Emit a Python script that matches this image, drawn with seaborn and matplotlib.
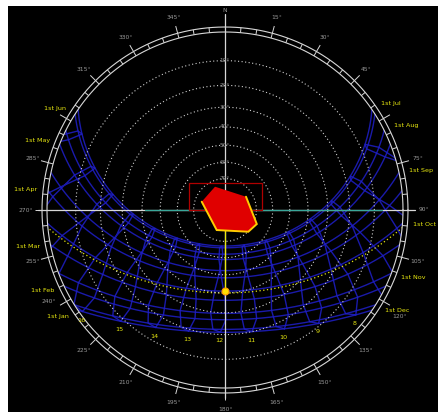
import numpy as np
import pandas as pd
import matplotlib
matplotlib.use("Agg")
import matplotlib.pyplot as plt
from matplotlib.patches import Circle, Polygon, Rectangle
from matplotlib.collections import LineCollection
import seaborn as sns

# site + clock settings
LATITUDE = 46.0
CLOCK_SHIFT_MIN = 12.0

# first day of each month: solar declination (deg) and equation of time (min)
MONTHS = ['Jan', 'Feb', 'Mar', 'Apr', 'May', 'Jun',
          'Jul', 'Aug', 'Sep', 'Oct', 'Nov', 'Dec']
DECLINATION = [-23.0, -17.3, -7.8, 4.3, 14.9, 22.0,
               23.1, 18.1, 8.4, -3.0, -14.3, -21.7]
EQ_OF_TIME = [-3.2, -13.6, -12.5, -4.1, 2.9, 2.3,
              -3.7, -6.3, -0.1, 10.1, 16.4, 11.2]

HOURS = list(range(4, 21))
ALTITUDE_RINGS = [10, 20, 30, 40, 50, 60, 70, 80]
# 60 and 300 sit under the "1st Jul" / "1st Jun" labels in the original
AZIMUTH_LABELS = [0, 15, 30, 45, 75, 90, 105, 120, 135, 150, 165, 180,
                  195, 210, 225, 240, 255, 270, 285, 315, 330, 345]
# small shifts so 120/240 clear the month labels next to them
LABEL_NUDGE = {120: (0.01, -0.04), 240: (-0.02, 0.045)}

# current day path and sun position
TODAY_DECLINATION = -4.0
SUN_AZIMUTH = 180.0
SUN_ALTITUDE = 41.0

# shading polygon (azimuth / altitude, deg) and site box (unit disc coords)
SHADE_AZ = [289.6, 336.8, 57.7, 113.8, 133.0, 202.5]
SHADE_ALT = [74.2, 73.8, 74.1, 67.9, 69.7, 76.1]
SITE_X = [-0.20, 0.21]
SITE_Y = [0.0, 0.152]
TEAL_SPAN = [-0.45, 0.88]

BLUE = '#1f1fc8'
YELLOW = '#e8e810'
GREY = '#9a9a9a'


def sky_xy(dec, hour_angle):
    # stereographic projection, horizon -> radius 1
    lat = np.radians(LATITUDE)
    d = np.radians(dec)
    h = np.radians(hour_angle)
    east = -np.cos(d) * np.sin(h)
    north = np.sin(d) * np.cos(lat) - np.cos(d) * np.sin(lat) * np.cos(h)
    up = np.sin(d) * np.sin(lat) + np.cos(d) * np.cos(lat) * np.cos(h)
    return east / (1 + up), north / (1 + up), up


def azalt_xy(az, alt):
    r = np.tan(np.radians(90 - np.asarray(alt, dtype=float)) / 2)
    a = np.radians(np.asarray(az, dtype=float))
    return r * np.sin(a), r * np.cos(a)


def hour_angle(clock, eot):
    return 15.0 * (clock + (eot + CLOCK_SHIFT_MIN) / 60.0 - 12.0)


sns.set_theme(style='dark')

fig = plt.figure(figsize=(4.39, 4.12), dpi=100, facecolor='white')
ax = fig.add_axes([8 / 439, 0, 431 / 439, 406 / 412])
ax.set_facecolor('black')
ax.set_xlim(-217 / 178, 214 / 178)
ax.set_ylim(-202 / 178, 204 / 178)
ax.set_xticks([])
ax.set_yticks([])
for s in ax.spines.values():
    s.set_visible(False)

horizon = Circle((0, 0), 1.0, transform=ax.transData)

# date lines
rows = []
sweep = np.linspace(-180, 180, 361)
for m, dec in zip(MONTHS, DECLINATION):
    x, y, _ = sky_xy(dec, sweep)
    rows.append(pd.DataFrame({'x': x, 'y': y, 'name': m}))
# hour lines (loops through the monthly points)
for hr in HOURS:
    order = list(range(12)) + [0]
    hx, hy = [], []
    for i in order:
        px, py, _ = sky_xy(DECLINATION[i], hour_angle(hr, EQ_OF_TIME[i]))
        hx.append(px)
        hy.append(py)
    rows.append(pd.DataFrame({'x': hx, 'y': hy, 'name': f'h{hr}'}))
paths = pd.concat(rows, ignore_index=True)

n_before = len(ax.lines)
sns.lineplot(data=paths, x='x', y='y', units='name', estimator=None, sort=False,
             color=BLUE, linewidth=1.0, alpha=0.85, legend=False, ax=ax)
for ln in ax.lines[n_before:]:
    ln.set_clip_path(horizon)

# altitude rings
t = np.linspace(0, 2 * np.pi, 400)
for alt in ALTITUDE_RINGS:
    r = np.tan(np.radians(90 - alt) / 2)
    ax.plot(r * np.cos(t), r * np.sin(t), color='#d0d0d0', lw=0.8,
            linestyle=(0, (1, 2.2)), zorder=3)
    ax.text(0, r, f'{alt}°', color=GREY, fontsize=4.2, ha='center', va='center', zorder=6)

# today's path
n_before = len(ax.lines)
tx, ty, _ = sky_xy(TODAY_DECLINATION, sweep)
sns.lineplot(x=tx, y=ty, sort=False, estimator=None, color=YELLOW, linewidth=0.9,
             linestyle=(0, (1, 2)), ax=ax, legend=False)
for ln in ax.lines[n_before:]:
    ln.set_clip_path(horizon)

# compass ring
for rr in (1.0, 1.028):
    ax.plot(rr * np.cos(t), rr * np.sin(t), color='#d8d8d8', lw=0.8, zorder=4)
segs = []
for a in range(0, 360, 5):
    s, c = np.sin(np.radians(a)), np.cos(np.radians(a))
    outer = 1.07 if a % 15 == 0 else 1.028
    segs.append([(s * 1.0, c * 1.0), (s * outer, c * outer)])
ax.add_collection(LineCollection(segs, colors='#d8d8d8', linewidths=0.7, zorder=4))

# main axes lines
ax.plot([0, 0], [-1.057, 1.10], color='#d8d8d8', lw=0.9, zorder=4)
ax.plot([-1.05, 1.067], [0, 0], color='#d8d8d8', lw=0.9, zorder=4)
ax.plot(TEAL_SPAN, [0, 0], color='#3aa89a', lw=0.9, zorder=4)

for a in AZIMUTH_LABELS:
    label = 'N' if a == 0 else f'{a}°'
    s, c = np.sin(np.radians(a)), np.cos(np.radians(a))
    dx, dy = LABEL_NUDGE.get(a, (0.0, 0.0))
    ax.text(1.12 * s + dx, 1.12 * c + dy, label, color=GREY, fontsize=4.3,
            ha='center', va='center', zorder=5)

# month labels at sunset (Jan-Jun) / sunrise (Jul-Dec)
lat_r = np.radians(LATITUDE)
for i, (m, dec) in enumerate(zip(MONTHS, DECLINATION)):
    h0 = np.degrees(np.arccos(-np.tan(lat_r) * np.tan(np.radians(dec))))
    h = h0 if i < 6 else -h0
    px, py, _ = sky_xy(dec, h)
    ax.text(1.06 * px, 1.06 * py, f'1st {m}', color=YELLOW, fontsize=4.6,
            ha='right' if i < 6 else 'left', va='center', zorder=7)

# hour labels under the January path
for hr in HOURS:
    px, py, up = sky_xy(DECLINATION[0], hour_angle(hr, EQ_OF_TIME[0]))
    if up > 0:
        ax.text(px - 0.006, py - 0.048, str(hr), color=YELLOW, fontsize=4.6,
                ha='center', va='center', zorder=8)

# site box and shading polygon
ax.add_patch(Rectangle((SITE_X[0], SITE_Y[0]), SITE_X[1] - SITE_X[0], SITE_Y[1] - SITE_Y[0],
                       fill=False, edgecolor='#b00000', lw=0.9, zorder=5))
sx, sy = azalt_xy(SHADE_AZ, SHADE_ALT)
ax.add_patch(Polygon(np.column_stack([sx, sy]), closed=True, facecolor='#e00000',
                     edgecolor='none', zorder=6))
edge = [2, 3, 4, 5, 0]
ax.plot(sx[edge], sy[edge], color='#ffcc00', lw=1.4, zorder=6, solid_joinstyle='miter')

# sun
sunx, suny = azalt_xy([SUN_AZIMUTH], [SUN_ALTITUDE])
ax.plot([0, sunx[0]], [0, suny[0]], color=YELLOW, lw=0.9, zorder=5)
ax.plot(sunx, suny, 'o', markersize=5, markerfacecolor='#ffe000',
        markeredgecolor='#ff9a00', markeredgewidth=0.8, zorder=8)

fig.savefig('out.png', dpi=100, facecolor='white')
